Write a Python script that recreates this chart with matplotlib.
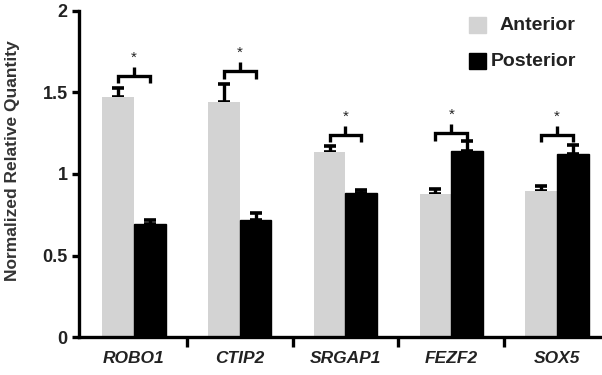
import numpy as np
import matplotlib
matplotlib.use('Agg')
import matplotlib.pyplot as plt
from matplotlib.patches import Rectangle

plt.rcParams['font.family'] = ['Liberation Sans', 'DejaVu Sans']

# datos
genes = ['ROBO1', 'CTIP2', 'SRGAP1', 'FEZF2', 'SOX5']
anterior = [1.47, 1.44, 1.135, 0.88, 0.895]
anterior_err = [0.06, 0.11, 0.035, 0.03, 0.03]
posterior = [0.695, 0.72, 0.885, 1.14, 1.125]
posterior_err = [0.025, 0.04, 0.015, 0.06, 0.055]
bracket = [1.60, 1.63, 1.24, 1.25, 1.24]

gris = '#d3d3d3'
texto = '#222222'
w = 0.3
x = np.arange(len(genes))

fig = plt.figure(figsize=(6.02, 3.75), dpi=100)
ax = fig.add_axes([0.131, 0.101, 0.869, 0.870])

ax.bar(x - w/2, anterior, w, color=gris, edgecolor='none', zorder=2)
ax.bar(x + w/2, posterior, w, color='black', edgecolor='black', zorder=2)
ax.errorbar(x - w/2, anterior, yerr=[np.zeros(5), anterior_err], fmt='none',
            ecolor='black', elinewidth=2.4, capsize=4, capthick=2.6, zorder=1)
ax.errorbar(x + w/2, posterior, yerr=[np.zeros(5), posterior_err], fmt='none',
            ecolor='black', elinewidth=2.4, capsize=4, capthick=2.6, zorder=1)

# corchetes de significancia
for i, h in enumerate(bracket):
    ax.plot([x[i] - w/2, x[i] - w/2, x[i] + w/2, x[i] + w/2],
            [h - 0.045, h, h, h - 0.045], color='black', lw=2.4,
            solid_capstyle='butt', solid_joinstyle='miter', clip_on=False)
    ax.plot([x[i], x[i]], [h, h + 0.055], color='black', lw=2.4,
            solid_capstyle='butt', clip_on=False)
    ax.text(x[i], h + 0.07, '*', ha='center', va='bottom', fontsize=11,
            color=texto)

ax.set_xlim(-0.52, 4.425)
ax.set_ylim(0, 2)
ax.set_yticks([0, 0.5, 1, 1.5, 2])
ax.set_yticklabels(['0', '0.5', '1', '1.5', '2'], fontweight='bold')
ax.set_xticks(x)
ax.set_xticklabels(genes, fontstyle='italic', fontweight='bold', fontsize=12.5)
ax.set_xticks(x[:-1] + 0.5, minor=True)
ax.tick_params(axis='x', which='major', length=0, pad=10, labelcolor=texto)
ax.tick_params(axis='x', which='minor', length=7, width=2.4, direction='out')
ax.tick_params(axis='y', length=5, width=2.4, labelsize=13, pad=3,
               labelcolor=texto)

ax.spines['top'].set_visible(False)
ax.spines['right'].set_visible(False)
ax.spines['left'].set_linewidth(2.4)
ax.spines['bottom'].set_linewidth(2.4)

ax.set_ylabel('Normalized Relative Quantity', fontsize=12.5, fontweight='bold',
              color='#333333')
ax.yaxis.set_label_coords(-0.113, 0.54)

# leyenda
fig.patches.append(Rectangle((469/602, 1 - 33/375), 17/602, 16/375,
                             transform=fig.transFigure, color=gris))
fig.patches.append(Rectangle((469/602, 1 - 69/375), 17/602, 16/375,
                             transform=fig.transFigure, color='black'))
fig.text(500/602, 1 - 25/375, 'Anterior', fontsize=14, fontweight='bold',
         color=texto, va='center', ha='left')
fig.text(491/602, 1 - 61/375, 'Posterior', fontsize=14, fontweight='bold',
         color=texto, va='center', ha='left')

plt.savefig('out.png', dpi=100)
